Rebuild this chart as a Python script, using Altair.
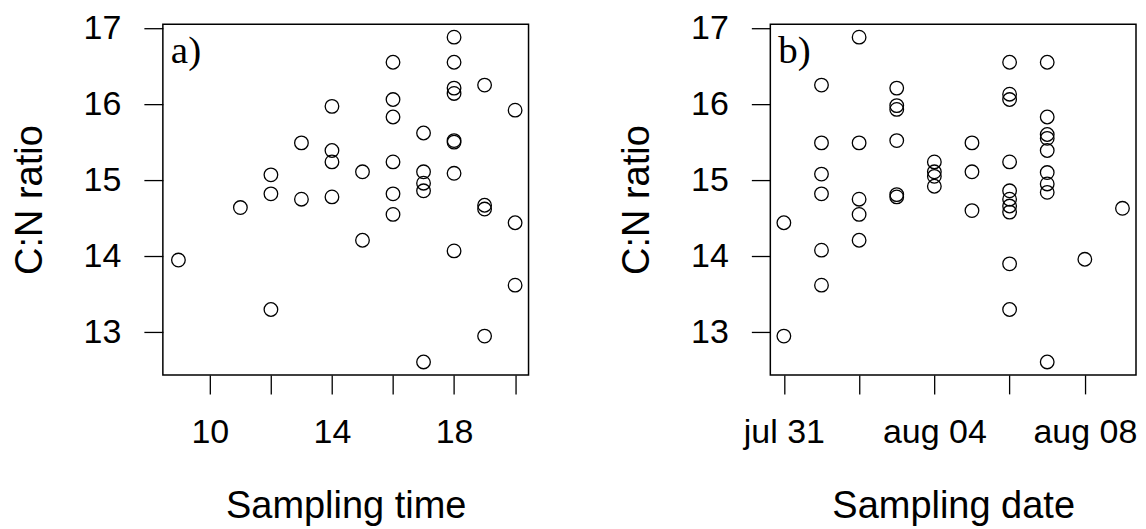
import altair as alt
import pandas as pd

# ---- Panel a: C:N ratio vs sampling time (hour of day) ----
time_a = [8.97, 11, 12, 12, 12, 13, 13, 14, 14, 14, 14, 15, 15,
          16, 16, 16, 16, 16, 16, 17, 17, 17, 17, 17,
          18, 18, 18, 18, 18, 18, 18, 18, 19, 19, 19, 19, 20, 20, 20]
cn_a = [13.95, 14.64, 15.07, 14.82, 13.30, 15.49, 14.75, 15.97, 15.39, 15.24, 14.78, 15.11, 14.21,
        16.55, 16.06, 15.83, 15.24, 14.82, 14.55, 15.62, 15.11, 14.96, 14.86, 12.61,
        16.88, 16.55, 16.21, 16.14, 15.52, 15.50, 15.09, 14.07, 16.25, 14.67, 14.62, 12.95,
        15.92, 14.44, 13.62]

# ---- Panel b: C:N ratio vs sampling date ----
date_b = (["07-31"] * 2 + ["08-01"] * 6 + ["08-02"] * 5 + ["08-03"] * 6 + ["08-04"] * 4
          + ["08-05"] * 3 + ["08-06"] * 10 + ["08-07"] * 9 + ["08-08"] + ["08-09"])
cn_b = [14.44, 12.95,
        16.25, 15.49, 15.08, 14.82, 14.08, 13.62,
        16.88, 15.49, 14.75, 14.55, 14.21,
        16.21, 15.98, 15.93, 15.52, 14.81, 14.78,
        15.24, 15.11, 15.05, 14.92,
        15.49, 15.11, 14.60,
        16.55, 16.13, 16.06, 15.24, 14.86, 14.75, 14.66, 14.58, 13.90, 13.30,
        16.55, 15.83, 15.60, 15.55, 15.39, 15.10, 14.95, 14.84, 12.61,
        13.96,
        14.63]

# ---- axis ticks / labels ----
y_ticks = [13, 14, 15, 16, 17]
x_ticks_a = [10, 12, 14, 16, 18, 20]
x_labels_a = ["10", "", "14", "", "18", ""]
x_tick_dates_b = ["07-31", "08-02", "08-04", "08-06", "08-08"]
x_labels_b = ["jul 31", "", "aug 04", "", "aug 08"]
panel_labels = ["a)", "b)"]

YEAR = "2015-"
origin = pd.Timestamp(YEAR + "07-31")


def day_offset(s):
    return (pd.Timestamp(YEAR + s) - origin).days


df_a = pd.DataFrame({"x": time_a, "y": cn_a})
df_b = pd.DataFrame({"x": [day_offset(d) for d in date_b], "y": cn_b})
x_ticks_b = [day_offset(d) for d in x_tick_dates_b]


def label_expr(values, labels):
    expr = "''"
    for v, l in reversed(list(zip(values, labels))):
        expr = f"datum.value == {v} ? '{l}' : ({expr})"
    return expr


W, H = 366, 351
FONT = "Liberation Sans"
FS = 34
TFS = 38
Y_DOMAIN = [12.44, 17.05]


def panel(df, xdomain, xvals, xlabels, xtitle, plabel):
    pts = alt.Chart(df).mark_point(
        shape="circle", filled=False, color="black", size=185, strokeWidth=1.3, opacity=1
    ).encode(
        x=alt.X("x:Q",
                scale=alt.Scale(domain=xdomain, nice=False, zero=False),
                axis=alt.Axis(values=xvals, labelExpr=label_expr(xvals, xlabels),
                              title=xtitle, labelPadding=22, titlePadding=38,
                              labelOverlap=False)),
        y=alt.Y("y:Q",
                scale=alt.Scale(domain=Y_DOMAIN, nice=False, zero=False),
                axis=alt.Axis(values=y_ticks, title="C:N ratio", labelPadding=23,
                              titlePadding=34, labelOverlap=False)),
    )
    txt = alt.Chart(alt.Data(values=[{"t": plabel}])).mark_text(
        font="Liberation Serif", fontSize=39, align="left", baseline="alphabetic", color="black"
    ).encode(x=alt.value(8), y=alt.value(39), text="t:N")
    return alt.layer(pts, txt).properties(width=W, height=H)


pa = panel(df_a, [8.46, 20.44], x_ticks_a, x_labels_a, "Sampling time", panel_labels[0])
pb = panel(df_b, [-0.36, 9.36], x_ticks_b, x_labels_b, "Sampling date", panel_labels[1])

chart = alt.hconcat(pa, pb, spacing=88).properties(
    padding={"left": 2, "top": 2, "right": 0, "bottom": 0},
    background="white",
).configure_view(
    stroke="black", strokeWidth=1.5
).configure_axis(
    domain=False, grid=False,
    tickColor="black", tickWidth=1.3, tickSize=19,
    labelFont=FONT, labelFontSize=FS, labelColor="black",
    titleFont=FONT, titleFontSize=TFS, titleFontWeight="normal", titleColor="black",
)

chart.save("out.html", embed_options={"renderer": "svg", "actions": False})
